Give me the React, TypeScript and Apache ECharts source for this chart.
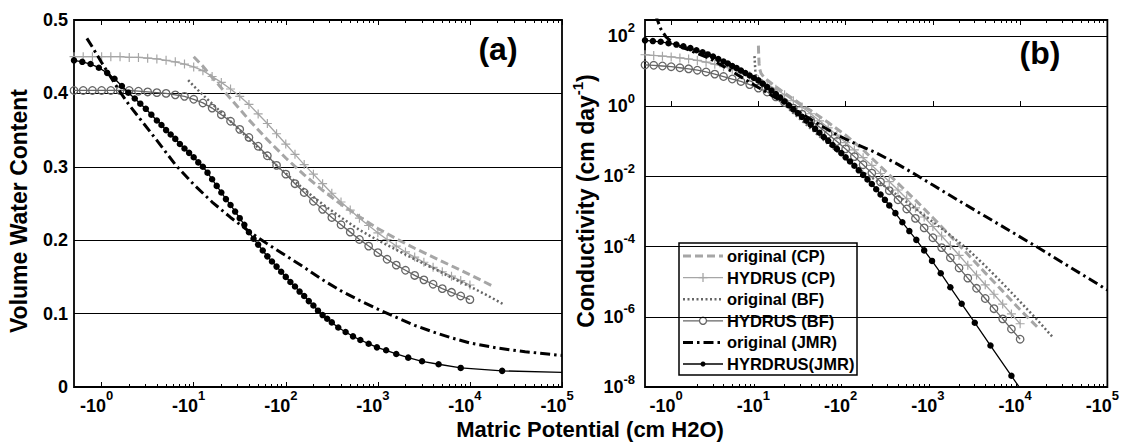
import React, { useEffect, useRef } from 'react';
import * as echarts from 'echarts';

// ---- data (x = log10 |matric potential| in cm, K stored as log10 cm/day) ----

// HYDRUS output nodes for the CP and BF runs
const hydrusLogH = [
  -0.3, -0.2, -0.1, 0.0, 0.1, 0.2, 0.3, 0.4, 0.5, 0.6, 0.7, 0.8, 0.9, 1.0, 1.1,
  1.2, 1.3, 1.4, 1.5, 1.6, 1.7, 1.8, 1.9, 2.0, 2.1, 2.2, 2.3, 2.4, 2.5, 2.6, 2.7,
  2.8, 2.9, 3.0, 3.1, 3.2, 3.3, 3.4, 3.5, 3.6, 3.7, 3.8, 3.9, 4.0,
];
const hydrusCpTheta = [
  0.45, 0.45, 0.45, 0.45, 0.45, 0.45, 0.449, 0.449, 0.448, 0.447, 0.445, 0.443,
  0.44, 0.436, 0.431, 0.423, 0.415, 0.406, 0.396, 0.385, 0.372, 0.359, 0.345,
  0.331, 0.317, 0.303, 0.29, 0.277, 0.264, 0.252, 0.241, 0.23, 0.22, 0.21, 0.201,
  0.192, 0.184, 0.177, 0.17, 0.163, 0.157, 0.151, 0.145, 0.139,
];
const hydrusBfTheta = [
  0.404, 0.404, 0.404, 0.404, 0.404, 0.404, 0.404, 0.403, 0.402, 0.401, 0.4,
  0.398, 0.396, 0.392, 0.387, 0.38, 0.371, 0.362, 0.351, 0.34, 0.328, 0.315,
  0.302, 0.29, 0.277, 0.265, 0.253, 0.242, 0.231, 0.221, 0.211, 0.201, 0.192,
  0.183, 0.174, 0.166, 0.159, 0.152, 0.146, 0.14, 0.134, 0.129, 0.124, 0.119,
];
const hydrusCpLogK = [
  1.46, 1.44, 1.42, 1.4, 1.37, 1.34, 1.3, 1.25, 1.19, 1.12, 1.05, 0.96, 0.86,
  0.75, 0.62, 0.48, 0.32, 0.15, -0.03, -0.22, -0.42, -0.62, -0.83, -1.04, -1.25,
  -1.47, -1.69, -1.92, -2.15, -2.39, -2.64, -2.9, -3.16, -3.43, -3.7, -3.97,
  -4.25, -4.53, -4.81, -5.09, -5.36, -5.64, -5.92, -6.2,
];
const hydrusBfLogK = [
  1.17, 1.16, 1.14, 1.12, 1.09, 1.06, 1.02, 0.97, 0.91, 0.84, 0.77, 0.7, 0.61,
  0.51, 0.4, 0.26, 0.1, -0.06, -0.23, -0.41, -0.6, -0.8, -1.01, -1.22, -1.44,
  -1.67, -1.91, -2.16, -2.41, -2.67, -2.93, -3.2, -3.47, -3.75, -4.03, -4.32,
  -4.61, -4.9, -5.19, -5.48, -5.77, -6.06, -6.35, -6.64,
];

// HYDRUS output nodes for the JMR run
const jmrLogH = [
  -0.3, -0.21, -0.12, -0.03, 0.06, 0.14, 0.22, 0.29, 0.36, 0.42, 0.48, 0.54,
  0.6, 0.65, 0.7, 0.75, 0.8, 0.85, 0.9, 0.95, 1.0, 1.05, 1.1, 1.15, 1.2, 1.25,
  1.3, 1.35, 1.4, 1.45, 1.5, 1.55, 1.6, 1.65, 1.7, 1.75, 1.8, 1.85, 1.9, 1.95,
  2.0, 2.05, 2.1, 2.15, 2.2, 2.25, 2.3, 2.35, 2.4, 2.45, 2.5, 2.57, 2.65, 2.73,
  2.81, 2.9, 2.99, 3.09, 3.2, 3.33, 3.48, 3.66, 3.9, 4.35,
];
const jmrTheta = [
  0.445, 0.443, 0.44, 0.435, 0.428, 0.42, 0.41, 0.401, 0.393, 0.386, 0.379,
  0.371, 0.363, 0.357, 0.35, 0.344, 0.338, 0.331, 0.325, 0.319, 0.313, 0.306,
  0.3, 0.292, 0.283, 0.274, 0.265, 0.256, 0.248, 0.239, 0.23, 0.221, 0.211,
  0.202, 0.194, 0.186, 0.178, 0.171, 0.164, 0.157, 0.15, 0.143, 0.137, 0.13,
  0.124, 0.117, 0.111, 0.104, 0.098, 0.093, 0.088, 0.081, 0.075, 0.069, 0.064,
  0.059, 0.054, 0.05, 0.045, 0.04, 0.035, 0.031, 0.026, 0.022,
];
const jmrLogK = [
  1.87, 1.85, 1.83, 1.79, 1.75, 1.7, 1.65, 1.59, 1.53, 1.47, 1.41, 1.34, 1.27,
  1.21, 1.14, 1.08, 1.01, 0.94, 0.87, 0.8, 0.73, 0.64, 0.54, 0.44, 0.34, 0.24,
  0.13, 0.02, -0.09, -0.2, -0.31, -0.42, -0.53, -0.65, -0.76, -0.88, -0.99,
  -1.11, -1.22, -1.34, -1.46, -1.58, -1.7, -1.83, -1.96, -2.09, -2.22, -2.37,
  -2.52, -2.67, -2.83, -3.05, -3.31, -3.56, -3.81, -4.11, -4.41, -4.76, -5.16,
  -5.63, -6.17, -6.82, -7.68, -9.3,
];
// retention curve continues past the last node to the dry end
const jmrThetaTail = [5.0, 0.02];

// original (closed-form) retention curves
const origCpLogH = [1.0, 1.1, 1.2, 1.4, 1.6, 1.8, 2.0, 2.2, 2.4, 2.6, 2.8, 3.0, 3.2, 3.4, 3.6, 3.8, 4.0, 4.24];
const origCpTheta = [0.45, 0.437, 0.422, 0.393, 0.364, 0.337, 0.312, 0.289, 0.268, 0.249, 0.232, 0.216, 0.202, 0.189, 0.177, 0.165, 0.153, 0.138];

const origBfLogH = [0.94, 1.0, 1.1, 1.2, 1.3, 1.4, 1.5, 1.6, 1.7, 1.8, 1.9, 2.0, 2.2, 2.4, 2.6, 2.8, 3.0, 3.2, 3.4, 3.6, 3.8, 4.0, 4.2, 4.36];
const origBfTheta = [0.418, 0.41, 0.398, 0.386, 0.374, 0.362, 0.35, 0.338, 0.326, 0.314, 0.302, 0.291, 0.269, 0.249, 0.231, 0.214, 0.2, 0.187, 0.174, 0.162, 0.149, 0.137, 0.124, 0.113];

const origJmrLogH = [-0.16, -0.1, 0.0, 0.1, 0.2, 0.3, 0.45, 0.6, 0.8, 1.0, 1.2, 1.4, 1.6, 1.8, 2.0, 2.2, 2.4, 2.6, 2.8, 3.0, 3.2, 3.4, 3.6, 3.8, 4.0, 4.3, 4.6, 5.0];
const origJmrTheta = [0.475, 0.463, 0.442, 0.422, 0.402, 0.384, 0.36, 0.336, 0.303, 0.276, 0.252, 0.231, 0.212, 0.195, 0.179, 0.163, 0.146, 0.131, 0.118, 0.106, 0.095, 0.084, 0.075, 0.067, 0.06, 0.053, 0.048, 0.043];

// original (closed-form) conductivity curves
const origCpKLogH = [1.0, 1.003, 1.008, 1.015, 1.03, 1.06, 1.1, 1.2, 1.3, 1.4, 1.5, 1.6, 1.8, 2.0, 2.2, 2.4, 2.6, 2.8, 3.0, 3.2, 3.4, 3.6, 3.8, 4.0, 4.2];
const origCpLogK = [1.72, 1.45, 1.2, 1.05, 0.93, 0.83, 0.74, 0.55, 0.37, 0.2, 0.03, -0.13, -0.47, -0.83, -1.25, -1.72, -2.2, -2.68, -3.18, -3.7, -4.22, -4.75, -5.27, -5.8, -6.3];

const origBfKLogH = [0.955, 0.96, 0.965, 0.975, 1.0, 1.05, 1.1, 1.2, 1.3, 1.4, 1.5, 1.6, 1.8, 2.0, 2.2, 2.4, 2.6, 2.8, 3.0, 3.2, 3.4, 3.6, 3.8, 4.0, 4.2, 4.38];
const origBfLogK = [1.42, 1.2, 1.0, 0.85, 0.68, 0.55, 0.44, 0.24, 0.04, -0.2, -0.42, -0.64, -1.08, -1.5, -1.88, -2.2, -2.55, -2.92, -3.3, -3.68, -4.08, -4.55, -5.05, -5.57, -6.1, -6.6];

const origJmrKLogH = [-0.18, -0.12, -0.06, 0.0, 0.06, 0.2, 0.43, 0.6, 0.8, 1.0, 1.18, 1.36, 1.55, 1.74, 1.9, 2.11, 2.34, 2.6, 2.8, 3.0, 3.3, 3.6, 3.9, 4.2, 4.5, 4.8, 5.0];
const origJmrLogK = [2.6, 2.2, 1.97, 1.84, 1.74, 1.6, 1.37, 1.13, 0.83, 0.53, 0.26, 0.0, -0.3, -0.59, -0.82, -1.07, -1.32, -1.66, -1.95, -2.25, -2.7, -3.14, -3.58, -4.02, -4.48, -4.93, -5.24];

// axis ticks: decade exponents
const headDecades = [0, 1, 2, 3, 4, 5];
const kDecades = [-8, -6, -4, -2, 0, 2];

const seriesNames = [
  'original (CP)',
  'HYDRUS (CP)',
  'original (BF)',
  'HYDRUS (BF)',
  'original (JMR)',
  'HYRDRUS(JMR)',
];

// ---- styling ----
const FONT = "'Liberation Sans', Arial, Helvetica, sans-serif";
const LIGHT = '#a6a6a6';
const MID = '#666666';
const BLACK = '#000000';
const PLUS = 'path://M0,4.35H10V5.65H0ZM4.35,0H5.65V10H4.35Z';

const pairs = (xs: number[], ys: number[]) => xs.map((x, i) => [x, ys[i]]);

const minorHeadTicks: number[] = [];
for (let n = 0; n < 5; n++) {
  for (let k = 2; k <= 9; k++) minorHeadTicks.push(n + Math.log10(k));
}

const headLabelRich = {
  b: { fontSize: 18, fontWeight: 'bold', fontFamily: FONT, color: BLACK, lineHeight: 36 },
  s: { fontSize: 13, fontWeight: 'bold', fontFamily: FONT, color: BLACK, lineHeight: 14, padding: [0, 0, 22, 0] },
  p: { width: 10, fontSize: 13, lineHeight: 14 },
};

function headAxes(gridIndex: number) {
  const base = {
    type: 'value',
    gridIndex,
    min: -0.3,
    max: 5,
    axisLine: { show: false },
    splitLine: { show: false },
  };
  const tickStyle = { color: BLACK, width: 1 };
  return [
    {
      ...base,
      position: 'bottom',
      axisTick: { show: true, inside: true, length: 5, customValues: headDecades, lineStyle: tickStyle },
      axisLabel: {
        customValues: headDecades,
        margin: 1,
        formatter: (v: number) => `{b|-10}{s|${Math.round(v)}}{p| }`,
        rich: headLabelRich,
      },
    },
    {
      ...base,
      position: 'bottom',
      axisTick: { show: true, inside: true, length: 3, customValues: minorHeadTicks, lineStyle: tickStyle },
      axisLabel: { show: false },
    },
    {
      ...base,
      position: 'top',
      axisTick: { show: true, inside: true, length: 5, customValues: headDecades, lineStyle: tickStyle },
      axisLabel: { show: false },
    },
    {
      ...base,
      position: 'top',
      axisTick: { show: true, inside: true, length: 3, customValues: minorHeadTicks, lineStyle: tickStyle },
      axisLabel: { show: false },
    },
  ];
}

function lineSeries(name: string, xi: number, yi: number, data: any[], extra: any) {
  return {
    type: 'line',
    name,
    xAxisIndex: xi,
    yAxisIndex: yi,
    data,
    clip: true,
    smooth: false,
    symbol: 'none',
    ...extra,
  };
}

const styleOrigCp = { lineStyle: { color: LIGHT, width: 3, type: [8, 4] }, z: 2 };
const styleHydCp = {
  lineStyle: { color: LIGHT, width: 1.3 },
  symbol: PLUS,
  symbolSize: 9,
  itemStyle: { color: LIGHT },
  z: 3,
};
const styleOrigBf = { lineStyle: { color: MID, width: 2.5, type: [2, 2.5] }, z: 4 };
const styleHydBf = {
  lineStyle: { color: MID, width: 1.3 },
  symbol: 'circle',
  symbolSize: 7.5,
  itemStyle: { color: 'rgba(0,0,0,0)', borderColor: MID, borderWidth: 1.3 },
  z: 5,
};
const styleOrigJmr = { lineStyle: { color: BLACK, width: 3, type: [10, 4, 2.5, 4] }, z: 6 };
const styleHydJmr = {
  lineStyle: { color: BLACK, width: 1.3 },
  symbol: 'circle',
  symbolSize: 6.5,
  itemStyle: { color: BLACK },
  z: 7,
};

function legendGraphics() {
  const left = 679;
  const top = 243;
  const rowY = (i: number) => 256 + i * 21.6;
  const x0 = 683;
  const x1 = 723;
  const xm = (x0 + x1) / 2;
  const els: any[] = [
    {
      type: 'rect',
      shape: { x: left, y: top, width: 178, height: 132 },
      style: { fill: '#fff', stroke: BLACK, lineWidth: 1.5 },
    },
  ];
  const lineDefs = [
    { stroke: LIGHT, lineWidth: 3, lineDash: [8, 4] },
    { stroke: LIGHT, lineWidth: 1.3 },
    { stroke: MID, lineWidth: 2.5, lineDash: [2, 2.5] },
    { stroke: MID, lineWidth: 1.3 },
    { stroke: BLACK, lineWidth: 3, lineDash: [10, 4, 2.5, 4] },
    { stroke: BLACK, lineWidth: 1.3 },
  ];
  lineDefs.forEach((st, i) => {
    const y = rowY(i);
    els.push({ type: 'line', shape: { x1: x0, y1: y, x2: x1, y2: y }, style: { ...st, fill: null } });
    els.push({
      type: 'text',
      x: 727,
      y,
      style: {
        text: seriesNames[i],
        font: `bold 16.5px ${FONT}`,
        fill: BLACK,
        align: 'left',
        verticalAlign: 'middle',
      },
    });
  });
  // markers on the HYDRUS samples
  const y1 = rowY(1);
  els.push({ type: 'line', shape: { x1: xm - 4.5, y1: y1, x2: xm + 4.5, y2: y1 }, style: { stroke: LIGHT, lineWidth: 1.3 } });
  els.push({ type: 'line', shape: { x1: xm, y1: y1 - 4.5, x2: xm, y2: y1 + 4.5 }, style: { stroke: LIGHT, lineWidth: 1.3 } });
  els.push({ type: 'circle', shape: { cx: xm, cy: rowY(3), r: 3.5 }, style: { fill: '#fff', stroke: MID, lineWidth: 1.3 } });
  els.push({ type: 'circle', shape: { cx: xm, cy: rowY(5), r: 2.5 }, style: { fill: BLACK } });
  return els;
}

export default function App() {
  const ref = useRef<HTMLDivElement>(null);

  useEffect(() => {
    if (!ref.current) return;
    const chart = echarts.init(ref.current, null, { renderer: 'svg' });

    const option: any = {
      animation: false,
      backgroundColor: '#ffffff',
      textStyle: { fontFamily: FONT },
      grid: [
        { left: 74, top: 20, width: 488, height: 367, show: true, borderColor: BLACK, borderWidth: 1.8, backgroundColor: 'transparent' },
        { left: 645, top: 20, width: 472, height: 367, show: true, borderColor: BLACK, borderWidth: 1.8, backgroundColor: 'transparent' },
      ],
      xAxis: [...headAxes(0), ...headAxes(1)],
      yAxis: [
        {
          type: 'value',
          gridIndex: 0,
          min: 0,
          max: 0.5,
          interval: 0.1,
          axisLine: { show: false },
          axisTick: { show: true, inside: true, length: 5, lineStyle: { color: BLACK } },
          splitLine: { show: true, lineStyle: { color: BLACK, width: 1 } },
          axisLabel: {
            margin: 6,
            fontSize: 18,
            fontWeight: 'bold',
            fontFamily: FONT,
            color: BLACK,
            formatter: (v: number) => (Math.abs(v) < 1e-9 ? '0' : v.toFixed(1)),
          },
        },
        {
          type: 'value',
          gridIndex: 1,
          min: -8,
          max: 2.45,
          interval: 2,
          axisLine: { show: false },
          axisTick: { show: true, inside: true, length: 5, customValues: kDecades, lineStyle: { color: BLACK } },
          splitLine: { show: true, lineStyle: { color: BLACK, width: 1 } },
          axisLabel: {
            margin: 10,
            customValues: kDecades,
            formatter: (v: number) => `{b|10}{s|${Math.round(v)}}`,
            rich: {
              b: { fontSize: 18, fontWeight: 'bold', fontFamily: FONT, color: BLACK, lineHeight: 30 },
              s: { fontSize: 13, fontWeight: 'bold', fontFamily: FONT, color: BLACK, lineHeight: 14, padding: [0, 0, 16, 0] },
            },
          },
        },
      ],
      series: [
        // (a) water retention
        lineSeries(seriesNames[0], 0, 0, pairs(origCpLogH, origCpTheta), styleOrigCp),
        lineSeries(seriesNames[1], 0, 0, pairs(hydrusLogH, hydrusCpTheta), styleHydCp),
        lineSeries(seriesNames[2], 0, 0, pairs(origBfLogH, origBfTheta), styleOrigBf),
        lineSeries(seriesNames[3], 0, 0, pairs(hydrusLogH, hydrusBfTheta), styleHydBf),
        lineSeries(seriesNames[4], 0, 0, pairs(origJmrLogH, origJmrTheta), styleOrigJmr),
        lineSeries(
          seriesNames[5],
          0,
          0,
          [...pairs(jmrLogH, jmrTheta), { value: jmrThetaTail, symbol: 'none' }],
          styleHydJmr,
        ),
        // (b) hydraulic conductivity
        lineSeries(seriesNames[0], 4, 1, pairs(origCpKLogH, origCpLogK), styleOrigCp),
        lineSeries(seriesNames[1], 4, 1, pairs(hydrusLogH, hydrusCpLogK), styleHydCp),
        lineSeries(seriesNames[2], 4, 1, pairs(origBfKLogH, origBfLogK), styleOrigBf),
        lineSeries(seriesNames[3], 4, 1, pairs(hydrusLogH, hydrusBfLogK), styleHydBf),
        lineSeries(seriesNames[4], 4, 1, pairs(origJmrKLogH, origJmrLogK), styleOrigJmr),
        lineSeries(seriesNames[5], 4, 1, pairs(jmrLogH, jmrLogK), styleHydJmr),
      ],
      graphic: [
        {
          type: 'text',
          x: 498,
          y: 49,
          style: { text: '(a)', font: `bold 32px ${FONT}`, fill: BLACK, align: 'center', verticalAlign: 'middle' },
        },
        {
          type: 'text',
          x: 1040,
          y: 53,
          style: { text: '(b)', font: `bold 32px ${FONT}`, fill: BLACK, align: 'center', verticalAlign: 'middle' },
        },
        {
          type: 'text',
          x: 590,
          y: 429,
          style: {
            text: 'Matric Potential (cm H2O)',
            font: `bold 22px ${FONT}`,
            fill: BLACK,
            align: 'center',
            verticalAlign: 'middle',
          },
        },
        {
          type: 'text',
          x: 19,
          y: 211,
          rotation: Math.PI / 2,
          style: {
            text: 'Volume Water Content',
            font: `bold 23px ${FONT}`,
            fill: BLACK,
            align: 'center',
            verticalAlign: 'middle',
          },
        },
        {
          type: 'text',
          x: 586,
          y: 201,
          rotation: Math.PI / 2,
          style: {
            text: '{t|Conductivity (cm day}{s|-1}{t|)}',
            fill: BLACK,
            align: 'center',
            verticalAlign: 'middle',
            rich: {
              t: { fontSize: 23, fontWeight: 'bold', fontFamily: FONT, fill: BLACK, lineHeight: 34 },
              s: { fontSize: 15, fontWeight: 'bold', fontFamily: FONT, fill: BLACK, lineHeight: 16, padding: [0, 0, 18, 0] },
            },
          },
        },
        ...legendGraphics(),
      ],
    };

    chart.setOption(option);
    return () => chart.dispose();
  }, []);

  return (
    <div
      ref={ref}
      style={{ position: 'fixed', left: 0, top: 0, width: 1132, height: 443, background: '#fff' }}
    />
  );
}
